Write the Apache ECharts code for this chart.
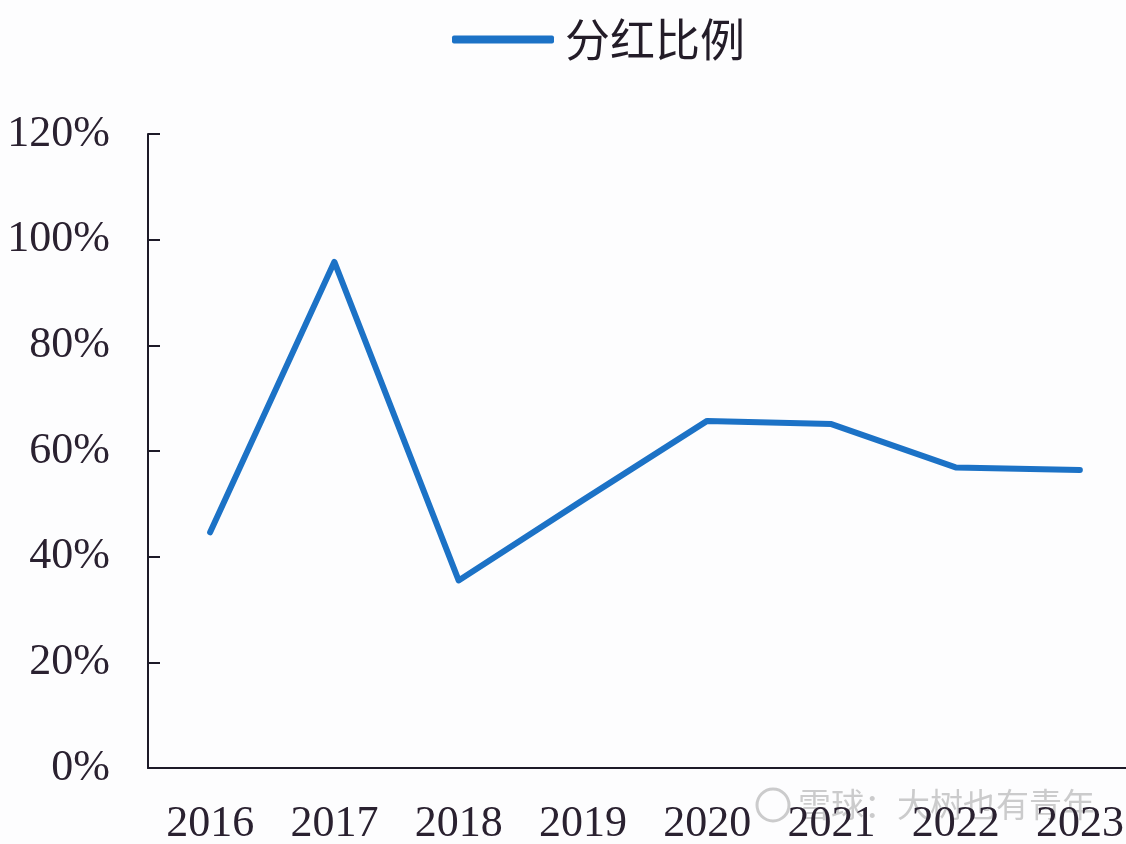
<!DOCTYPE html>
<html>
<head>
<meta charset="utf-8">
<script src="https://cdn.jsdelivr.net/npm/echarts@6/dist/echarts.min.js"></script>
<style>
html,body{margin:0;padding:0;background:#fdfdfe;}
#main{width:1126px;height:844px;}
</style>
</head>
<body>
<div id="main"></div>
<script>
var categories = ['2016','2017','2018','2019','2020','2021','2022','2023'];
var payoutRatio = [44.6, 95.8, 35.5, 50.7, 65.7, 65.1, 56.9, 56.4];
var yTicks = [0, 20, 40, 60, 80, 100, 120];
var seriesName = '分红比例';
var watermark = '雪球：大树也有青年';

var chart = echarts.init(document.getElementById('main'));
var axisColor = '#1d1a28';
var labelColor = '#2a2130';
chart.setOption({
  backgroundColor: '#fdfdfe',
  animation: false,
  legend: {
    top: 12,
    left: 447,
    data: [{name: seriesName, icon: 'roundRect'}],
    itemWidth: 102,
    itemHeight: 8,
    textStyle: {fontFamily: 'Noto Sans CJK SC', fontSize: 45, color: '#231c28', padding: [0,0,0,6]}
  },
  grid: {left: 148, width: 994, top: 134, bottom: 76, containLabel: false, outerBoundsMode: 'none'},
  xAxis: {
    type: 'category',
    data: categories,
    boundaryGap: true,
    axisLine: {lineStyle: {color: axisColor, width: 2}},
    axisTick: {inside: true, length: 11, lineStyle: {color: axisColor, width: 2}},
    axisLabel: {fontFamily: 'Liberation Serif', fontSize: 44, color: labelColor, margin: 34}
  },
  yAxis: {
    type: 'value',
    min: yTicks[0],
    max: yTicks[yTicks.length - 1],
    interval: yTicks[1] - yTicks[0],
    axisLine: {show: true, lineStyle: {color: axisColor, width: 2}},
    axisTick: {show: true, inside: true, length: 12, lineStyle: {color: axisColor, width: 2}},
    splitLine: {show: false},
    axisLabel: {fontFamily: 'Liberation Serif', fontSize: 44, color: labelColor, margin: 38, padding: [12,0,0,0], formatter: '{value}%'}
  },
  series: [{
    name: seriesName,
    type: 'line',
    data: payoutRatio,
    symbol: 'none',
    lineStyle: {color: '#1c72c6', width: 6, cap: 'round', join: 'round'},
    itemStyle: {color: '#1c72c6'}
  }],
  graphic: [{
    type: 'circle',
    shape: {cx: 773, cy: 805, r: 16},
    style: {fill: 'none', stroke: 'rgba(170,170,170,0.6)', lineWidth: 3}
  }, {
    type: 'text',
    left: 798,
    top: 788,
    style: {text: watermark, font: '33px "Noto Sans CJK SC"', fill: 'rgba(170,170,170,0.6)'}
  }]
});
</script>
</body>
</html>
